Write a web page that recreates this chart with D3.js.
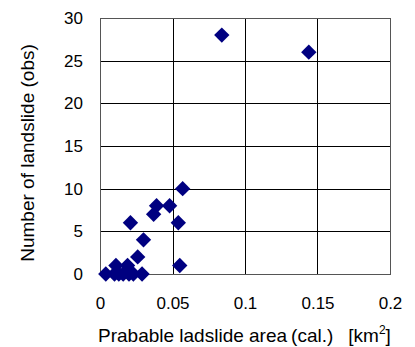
<!DOCTYPE html>
<html>
<head>
<meta charset="utf-8">
<script src="https://d3js.org/d3.v7.min.js"></script>
<style>
  body { margin: 0; background: #fff; }
  text { font-family: 'Liberation Sans', Arial, sans-serif; fill: #000; }
  .tick text { font-size: 17px; }
</style>
</head>
<body>
<script>
// data
const areaCal = [0.004, 0.010, 0.011, 0.013, 0.016, 0.019, 0.020, 0.023, 0.029, 0.026, 0.030, 0.021, 0.037, 0.039, 0.048, 0.054, 0.057, 0.055, 0.084, 0.144];
const countObs = [0, 0, 1, 0, 0, 1, 0, 0, 0, 2, 4, 6, 7, 8, 8, 6, 10, 1, 28, 26];
const xTicks = [0, 0.05, 0.1, 0.15, 0.2];
const yTicks = [0, 5, 10, 15, 20, 25, 30];

const W = 415, H = 347;
const m = {left: 100, right: 25, top: 18, bottom: 73};
const w = W - m.left - m.right, h = H - m.top - m.bottom;

const svg = d3.select("body").append("svg").attr("width", W).attr("height", H);
const g = svg.append("g").attr("transform", `translate(${m.left},${m.top})`);

const x = d3.scaleLinear().domain([0, 0.2]).range([0, w]);
const y = d3.scaleLinear().domain([0, 30]).range([h, 0]);

// grid
g.append("g").selectAll("line").data(xTicks).join("line")
  .attr("x1", d => Math.round(x(d)) + 0.5).attr("x2", d => Math.round(x(d)) + 0.5)
  .attr("y1", 0).attr("y2", h).attr("stroke", "#000");
g.append("g").selectAll("line").data(yTicks).join("line")
  .attr("y1", d => Math.round(y(d)) + 0.5).attr("y2", d => Math.round(y(d)) + 0.5)
  .attr("x1", 0).attr("x2", w).attr("stroke", "#000");

// frame
g.append("rect").attr("x", 0.5).attr("y", 0.5).attr("width", w).attr("height", h)
  .attr("fill", "none").attr("stroke", "#555");

// axes (labels only)
const xAxis = g.append("g").attr("transform", `translate(0,${h})`)
  .call(d3.axisBottom(x).tickValues(xTicks).tickSize(0).tickPadding(23).tickFormat(d => d));
xAxis.select(".domain").remove();
const yAxis = g.append("g")
  .call(d3.axisLeft(y).tickValues(yTicks).tickSize(0).tickPadding(17));
yAxis.select(".domain").remove();

// points
g.append("g").selectAll("path").data(areaCal).join("path")
  .attr("d", d3.symbol(d3.symbolSquare, 118))
  .attr("transform", (d, i) => `translate(${x(d)},${y(countObs[i])}) rotate(45)`)
  .attr("fill", "#000080");

// axis titles
svg.append("text")
  .attr("transform", `translate(34,${m.top + h / 2 + 7}) rotate(-90)`)
  .attr("text-anchor", "middle").attr("font-size", 19)
  .text("Number of landslide (obs)");

const xt = svg.append("text")
  .attr("x", 98).attr("y", 342).attr("font-size", 19);
xt.append("tspan").text("Prabable ladslide area");
xt.append("tspan").attr("dx", 4).text("(cal.)");
xt.append("tspan").attr("dx", 15).text("[km");
xt.append("tspan").attr("font-size", 12).attr("dy", -8).text("2");
xt.append("tspan").attr("dy", 8).text("]");
</script>
</body>
</html>
